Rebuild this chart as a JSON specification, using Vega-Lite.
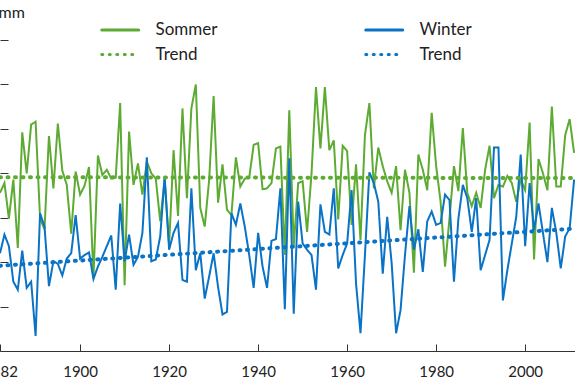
{
  "$schema": "https://vega.github.io/schema/vega-lite/v6.json",
  "width": 575,
  "height": 311,
  "autosize": {"type": "none"},
  "padding": {"left": 0, "top": 40, "right": 0, "bottom": 32},
  "background": "white",
  "config": {
    "view": {"stroke": null},
    "font": "Lato",
    "axis": {"labelFont": "Lato", "titleFont": "Lato", "grid": false},
    "legend": {"labelFont": "Lato"}
  },
  "datasets": {
    "messwerte": [
      {"Jahr": 1882, "Sommer": 228, "Winter": 160},
      {"Jahr": 1883, "Sommer": 239, "Winter": 181},
      {"Jahr": 1884, "Sommer": 199, "Winter": 168},
      {"Jahr": 1885, "Sommer": 243, "Winter": 128},
      {"Jahr": 1886, "Sommer": 166, "Winter": 119},
      {"Jahr": 1887, "Sommer": 296, "Winter": 163},
      {"Jahr": 1888, "Sommer": 250, "Winter": 121},
      {"Jahr": 1889, "Sommer": 305, "Winter": 128},
      {"Jahr": 1890, "Sommer": 308, "Winter": 67},
      {"Jahr": 1891, "Sommer": 199, "Winter": 205},
      {"Jahr": 1892, "Sommer": 187, "Winter": 190},
      {"Jahr": 1893, "Sommer": 292, "Winter": 123},
      {"Jahr": 1894, "Sommer": 233, "Winter": 151},
      {"Jahr": 1895, "Sommer": 306, "Winter": 148},
      {"Jahr": 1896, "Sommer": 253, "Winter": 135},
      {"Jahr": 1897, "Sommer": 237, "Winter": 154},
      {"Jahr": 1898, "Sommer": 182, "Winter": 160},
      {"Jahr": 1899, "Sommer": 252, "Winter": 203},
      {"Jahr": 1900, "Sommer": 226, "Winter": 154},
      {"Jahr": 1901, "Sommer": 236, "Winter": 158},
      {"Jahr": 1902, "Sommer": 257, "Winter": 161},
      {"Jahr": 1903, "Sommer": 132, "Winter": 131},
      {"Jahr": 1904, "Sommer": 270, "Winter": 145},
      {"Jahr": 1905, "Sommer": 248, "Winter": 156},
      {"Jahr": 1906, "Sommer": 254, "Winter": 168},
      {"Jahr": 1907, "Sommer": 244, "Winter": 180},
      {"Jahr": 1908, "Sommer": 245, "Winter": 119},
      {"Jahr": 1909, "Sommer": 329, "Winter": 216},
      {"Jahr": 1910, "Sommer": 124, "Winter": 151},
      {"Jahr": 1911, "Sommer": 297, "Winter": 181},
      {"Jahr": 1912, "Sommer": 237, "Winter": 147},
      {"Jahr": 1913, "Sommer": 261, "Winter": 156},
      {"Jahr": 1914, "Sommer": 226, "Winter": 183},
      {"Jahr": 1915, "Sommer": 263, "Winter": 268},
      {"Jahr": 1916, "Sommer": 250, "Winter": 151},
      {"Jahr": 1917, "Sommer": 244, "Winter": 153},
      {"Jahr": 1918, "Sommer": 196, "Winter": 179},
      {"Jahr": 1919, "Sommer": 243, "Winter": 246},
      {"Jahr": 1920, "Sommer": 169, "Winter": 164},
      {"Jahr": 1921, "Sommer": 276, "Winter": 183},
      {"Jahr": 1922, "Sommer": 202, "Winter": 194},
      {"Jahr": 1923, "Sommer": 323, "Winter": 130},
      {"Jahr": 1924, "Sommer": 222, "Winter": 128},
      {"Jahr": 1925, "Sommer": 323, "Winter": 233},
      {"Jahr": 1926, "Sommer": 350, "Winter": 141},
      {"Jahr": 1927, "Sommer": 211, "Winter": 160},
      {"Jahr": 1928, "Sommer": 190, "Winter": 109},
      {"Jahr": 1929, "Sommer": 243, "Winter": 134},
      {"Jahr": 1930, "Sommer": 337, "Winter": 160},
      {"Jahr": 1931, "Sommer": 217, "Winter": 122},
      {"Jahr": 1932, "Sommer": 260, "Winter": 91},
      {"Jahr": 1933, "Sommer": 209, "Winter": 94},
      {"Jahr": 1934, "Sommer": 203, "Winter": 205},
      {"Jahr": 1935, "Sommer": 268, "Winter": 192},
      {"Jahr": 1936, "Sommer": 235, "Winter": 216},
      {"Jahr": 1937, "Sommer": 244, "Winter": 190},
      {"Jahr": 1938, "Sommer": 245, "Winter": 158},
      {"Jahr": 1939, "Sommer": 282, "Winter": 121},
      {"Jahr": 1940, "Sommer": 284, "Winter": 183},
      {"Jahr": 1941, "Sommer": 232, "Winter": 145},
      {"Jahr": 1942, "Sommer": 233, "Winter": 121},
      {"Jahr": 1943, "Sommer": 239, "Winter": 174},
      {"Jahr": 1944, "Sommer": 278, "Winter": 176},
      {"Jahr": 1945, "Sommer": 280, "Winter": 233},
      {"Jahr": 1946, "Sommer": 158, "Winter": 97},
      {"Jahr": 1947, "Sommer": 321, "Winter": 267},
      {"Jahr": 1948, "Sommer": 168, "Winter": 92},
      {"Jahr": 1949, "Sommer": 239, "Winter": 218},
      {"Jahr": 1950, "Sommer": 241, "Winter": 171},
      {"Jahr": 1951, "Sommer": 184, "Winter": 164},
      {"Jahr": 1952, "Sommer": 250, "Winter": 158},
      {"Jahr": 1953, "Sommer": 347, "Winter": 119},
      {"Jahr": 1954, "Sommer": 278, "Winter": 215},
      {"Jahr": 1955, "Sommer": 347, "Winter": 184},
      {"Jahr": 1956, "Sommer": 276, "Winter": 181},
      {"Jahr": 1957, "Sommer": 287, "Winter": 233},
      {"Jahr": 1958, "Sommer": 198, "Winter": 143},
      {"Jahr": 1959, "Sommer": 281, "Winter": 158},
      {"Jahr": 1960, "Sommer": 275, "Winter": 171},
      {"Jahr": 1961, "Sommer": 192, "Winter": 231},
      {"Jahr": 1962, "Sommer": 260, "Winter": 126},
      {"Jahr": 1963, "Sommer": 175, "Winter": 70},
      {"Jahr": 1964, "Sommer": 293, "Winter": 158},
      {"Jahr": 1965, "Sommer": 329, "Winter": 251},
      {"Jahr": 1966, "Sommer": 233, "Winter": 239},
      {"Jahr": 1967, "Sommer": 279, "Winter": 218},
      {"Jahr": 1968, "Sommer": 258, "Winter": 137},
      {"Jahr": 1969, "Sommer": 241, "Winter": 201},
      {"Jahr": 1970, "Sommer": 228, "Winter": 149},
      {"Jahr": 1971, "Sommer": 258, "Winter": 70},
      {"Jahr": 1972, "Sommer": 186, "Winter": 96},
      {"Jahr": 1973, "Sommer": 254, "Winter": 158},
      {"Jahr": 1974, "Sommer": 228, "Winter": 213},
      {"Jahr": 1975, "Sommer": 138, "Winter": 164},
      {"Jahr": 1976, "Sommer": 271, "Winter": 187},
      {"Jahr": 1977, "Sommer": 254, "Winter": 139},
      {"Jahr": 1978, "Sommer": 231, "Winter": 196},
      {"Jahr": 1979, "Sommer": 318, "Winter": 207},
      {"Jahr": 1980, "Sommer": 258, "Winter": 192},
      {"Jahr": 1981, "Sommer": 218, "Winter": 194},
      {"Jahr": 1982, "Sommer": 145, "Winter": 226},
      {"Jahr": 1983, "Sommer": 199, "Winter": 220},
      {"Jahr": 1984, "Sommer": 258, "Winter": 128},
      {"Jahr": 1985, "Sommer": 230, "Winter": 199},
      {"Jahr": 1986, "Sommer": 301, "Winter": 237},
      {"Jahr": 1987, "Sommer": 228, "Winter": 222},
      {"Jahr": 1988, "Sommer": 213, "Winter": 184},
      {"Jahr": 1989, "Sommer": 228, "Winter": 222},
      {"Jahr": 1990, "Sommer": 211, "Winter": 141},
      {"Jahr": 1991, "Sommer": 254, "Winter": 158},
      {"Jahr": 1992, "Sommer": 281, "Winter": 175},
      {"Jahr": 1993, "Sommer": 222, "Winter": 279},
      {"Jahr": 1994, "Sommer": 237, "Winter": 279},
      {"Jahr": 1995, "Sommer": 235, "Winter": 107},
      {"Jahr": 1996, "Sommer": 247, "Winter": 141},
      {"Jahr": 1997, "Sommer": 239, "Winter": 171},
      {"Jahr": 1998, "Sommer": 218, "Winter": 201},
      {"Jahr": 1999, "Sommer": 243, "Winter": 271},
      {"Jahr": 2000, "Sommer": 231, "Winter": 168},
      {"Jahr": 2001, "Sommer": 307, "Winter": 239},
      {"Jahr": 2002, "Sommer": 153, "Winter": 186},
      {"Jahr": 2003, "Sommer": 266, "Winter": 216},
      {"Jahr": 2004, "Sommer": 250, "Winter": 183},
      {"Jahr": 2005, "Sommer": 231, "Winter": 150},
      {"Jahr": 2006, "Sommer": 325, "Winter": 211},
      {"Jahr": 2007, "Sommer": 235, "Winter": 183},
      {"Jahr": 2008, "Sommer": 235, "Winter": 143},
      {"Jahr": 2009, "Sommer": 293, "Winter": 179},
      {"Jahr": 2010, "Sommer": 311, "Winter": 188},
      {"Jahr": 2011, "Sommer": 273, "Winter": 243}
    ],
    "trend": [
      {"Jahr": 1882, "Reihe": "Trend (Sommer)", "mm": 245.6},
      {"Jahr": 2011, "Reihe": "Trend (Sommer)", "mm": 244.6},
      {"Jahr": 1882, "Reihe": "Trend (Winter)", "mm": 146},
      {"Jahr": 2011, "Reihe": "Trend (Winter)", "mm": 187.7}
    ]
  },
  "layer": [
    {
      "data": {"name": "messwerte"},
      "transform": [{"fold": ["Sommer", "Winter"], "as": ["Reihe", "mm"]}],
      "mark": {"type": "line", "clip": true, "strokeJoin": "miter", "strokeWidth": 2},
      "encoding": {
        "x": {
          "field": "Jahr", "type": "quantitative",
          "scale": {"domain": [1882, 2011.2], "nice": false, "zero": false},
          "axis": {
            "values": [1882, 1900, 1920, 1940, 1960, 1980, 2000],
            "format": "d", "title": null, "grid": false,
            "domainColor": "#333333", "domainWidth": 1,
            "tickColor": "#333333", "tickSize": -7, "tickWidth": 1,
            "labelFontSize": 15, "labelColor": "#222222", "labelPadding": 20,
            "labelFlush": false, "labelOverlap": false, "labelBound": false
          }
        },
        "y": {
          "field": "mm", "type": "quantitative",
          "scale": {"domain": [50, 400], "nice": false, "zero": false},
          "axis": {
            "values": [50, 100, 150, 200, 250, 300, 350, 400],
            "labels": false, "domain": false, "grid": false,
            "tickSize": -8, "tickColor": "#333333", "tickWidth": 1,
            "title": "mm", "titleAngle": 0, "titleX": -2, "titleY": -23,
            "titleAlign": "left", "titleBaseline": "alphabetic",
            "titleFontSize": 16, "titleFontWeight": "normal", "titleColor": "#222222"
          }
        },
        "color": {
          "field": "Reihe", "type": "nominal",
          "scale": {
            "domain": ["Sommer", "Trend (Sommer)", "Winter", "Trend (Winter)"],
            "range": ["#5dab32", "#5dab32", "#0a73c5", "#0a73c5"]
          },
          "legend": {
            "orient": "none", "legendX": 109.25, "legendY": -21,
            "columns": 2, "columnPadding": 141, "rowPadding": 5.5,
            "title": null, "symbolType": "M-2,0H2", "symbolSize": 342,
            "symbolStrokeWidth": 3,
            "labelFontSize": 17, "labelColor": "#222222", "labelOffset": 24.25,
            "padding": 0,
            "labelExpr": "indexof(datum.label, 'Trend') == 0 ? 'Trend' : datum.label",
            "encode": {"symbols": {"update": {"strokeCap": {"value": "round"}}}}
          }
        },
        "strokeDash": {
          "field": "Reihe", "type": "nominal",
          "scale": {
            "domain": ["Sommer", "Trend (Sommer)", "Winter", "Trend (Winter)"],
            "range": [[1, 0], [1, 6.5], [1, 0], [1, 6.5]]
          }
        }
      }
    },
    {
      "data": {"name": "trend"},
      "mark": {"type": "line", "clip": true, "strokeCap": "round", "strokeWidth": 4},
      "encoding": {
        "x": {"field": "Jahr", "type": "quantitative"},
        "y": {"field": "mm", "type": "quantitative"},
        "color": {"field": "Reihe", "type": "nominal"},
        "strokeDash": {"field": "Reihe", "type": "nominal"}
      }
    }
  ]
}
